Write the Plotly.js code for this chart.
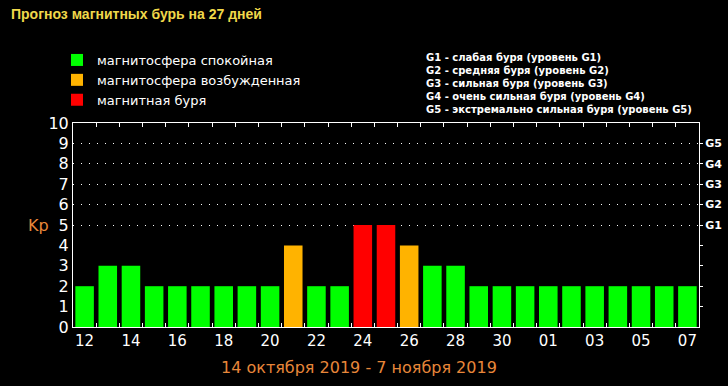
<!DOCTYPE html>
<html>
<head>
<meta charset="utf-8">
<script src="https://cdn.plot.ly/plotly-3.0.1.min.js"></script>
<style>html,body{margin:0;padding:0;background:#000;}#chart{width:728px;height:386px;}</style>
</head>
<body>
<div id="chart"></div>
<script>
const days = ['12','13','14','15','16','17','18','19','20','21','22','23','24','25','26','27','28','29','30','31','01','02','03','04','05','06','07'];
const kp = [2,3,3,2,2,2,2,2,2,4,2,2,5,5,4,3,3,2,2,2,2,2,2,2,2,2,2];
const statusNames = ['магнитосфера спокойная','магнитосфера возбужденная','магнитная буря'];
const statusColors = ['#00ff00','#ffb300','#ff0000'];
const yTicks = [0,1,2,3,4,5,6,7,8,9,10];
const gLevels = [5,6,7,8,9];
const gLabels = ['G1','G2','G3','G4','G5'];
const gDescriptions = [
  'G1 - слабая буря (уровень G1)',
  'G2 - средняя буря (уровень G2)',
  'G3 - сильная буря (уровень G3)',
  'G4 - очень сильная буря (уровень G4)',
  'G5 - экстремально сильная буря (уровень G5)'
];
const titleText = 'Прогноз магнитных бурь на 27 дней';
const periodText = '14 октября 2019 - 7 ноября 2019';

function statusOf(v){ return v >= 5 ? 2 : (v === 4 ? 1 : 0); }

const W = 728, H = 386;
const idx = days.map((d,i)=>i);
const traces = statusNames.map((name, s) => {
  const xs = [], ys = [];
  kp.forEach((v,i)=>{ if (statusOf(v) === s) { xs.push(i); ys.push(v); } });
  return {type:'bar', name: name, x: xs, y: ys, width: 0.8, marker:{color: statusColors[s], line:{width:0}}, hoverinfo:'skip'};
});
traces.push({type:'scatter', x:[], y:[], yaxis:'y2', showlegend:false, hoverinfo:'skip'});

const evenIdx = idx.filter(i => i % 2 === 0);
const boundaries = idx.slice(1).map(i => i - 0.5);
const px = v => (v - 73) / 626;
const py = v => (327 - v) / 204;

const layout = {
  width: W, height: H,
  paper_bgcolor: '#000', plot_bgcolor: '#000',
  margin: {l:73, r:29, t:123, b:59, autoexpand:false},
  barmode: 'overlay', bargap: 0.2,
  font: {family: 'DejaVu Sans', color: '#fff'},
  showlegend: true,
  legend: {x: 57/W, xref:'container', y: 1 - 45/H, yref:'container', yanchor:'top', xanchor:'left',
           bgcolor:'rgba(0,0,0,0)', font:{size:13, color:'#fff', family:'DejaVu Sans'}, tracegroupgap: 0, itemwidth: 30},
  xaxis: {range:[-0.5, 26.5], tickvals: evenIdx, ticktext: evenIdx.map(i=>days[i]), ticks:'',
          tickfont:{size:15, color:'#fff', family:'DejaVu Sans'},
          showline:true, linecolor:'#fff', linewidth:1, mirror:'ticks', showgrid:false, zeroline:false,
          minor:{tickvals: boundaries, ticks:'inside', ticklen:4, tickcolor:'#fff', showgrid:false}},
  yaxis: {range:[0,10], tickvals: yTicks, ticktext: yTicks.map(String), ticks:'', showgrid:false, zeroline:false,
          showline:true, linecolor:'#fff', linewidth:1, tickfont:{size:16, color:'#fff', family:'DejaVu Sans'}},
  yaxis2: {range:[0,10], overlaying:'y', side:'right', tickvals: gLevels, ticktext: gLabels,
           ticks:'outside', ticklen:3, tickcolor:'#fff', showline:true, linecolor:'#fff', linewidth:1, zeroline:false,
           showgrid:true, gridcolor:'#fff', gridwidth:1, griddash:'1px,7px',
           tickfont:{size:11, color:'#fff', family:'DejaVu Sans', weight:'bold'},
           minor:{tickvals:[1,2,3,4], ticks:'outside', ticklen:3, tickcolor:'#fff', showgrid:false}},
  annotations: [
    {text:'<b>'+titleText+'</b>', xref:'paper', yref:'paper', x:px(9), y:py(14), xanchor:'left', yanchor:'middle',
     showarrow:false, font:{size:14, color:'#f0d84a', family:'Liberation Sans'}},
    {text:'<b>'+gDescriptions.join('<br>')+'</b>', xref:'paper', yref:'paper', x:px(424), y:py(50), xanchor:'left', yanchor:'top',
     align:'left', showarrow:false, font:{size:10, color:'#fff', family:'DejaVu Sans'}},
    {text:'Kp', xref:'paper', yref:'y', x:px(38), y:5, xanchor:'center', yanchor:'middle',
     showarrow:false, font:{size:16, color:'#e8873a', family:'DejaVu Sans'}},
    {text: periodText, xref:'paper', yref:'paper', x:px(359), y:py(367), xanchor:'center', yanchor:'middle',
     showarrow:false, font:{size:16, color:'#e8873a', family:'DejaVu Sans'}}
  ]
};

Plotly.newPlot('chart', traces, layout, {displayModeBar:false, staticPlot:true});
</script>
</body>
</html>
